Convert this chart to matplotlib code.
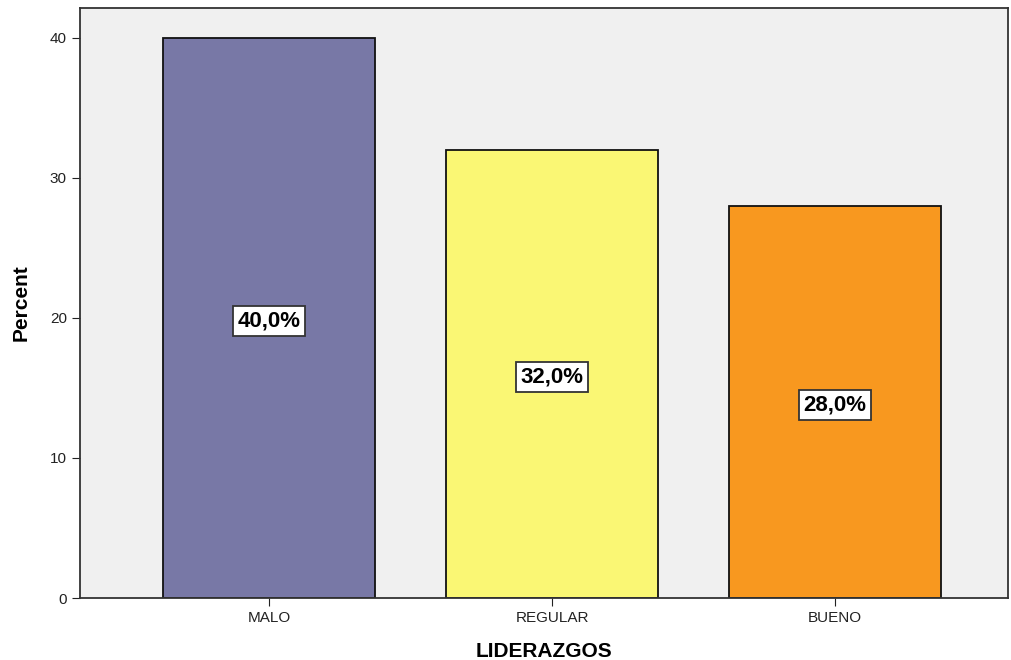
import matplotlib
matplotlib.use("Agg")
import matplotlib.pyplot as plt

categories = ["MALO", "REGULAR", "BUENO"]
values = [40.0, 32.0, 28.0]
labels = ["40,0%", "32,0%", "28,0%"]
colors = ["#7878a6", "#faf774", "#f8981f"]

plt.rcParams['font.family'] = ['Liberation Sans', 'DejaVu Sans']

W, H = 1011, 660
fig = plt.figure(figsize=(W/100, H/100), dpi=100)
ax = fig.add_axes([80/W, (H-598)/H, (1008-80)/W, (598-8)/H])
ax.set_facecolor("#f0f0f0")

x = list(range(len(categories)))
ax.bar(x, values, width=0.75, color=colors, edgecolor="#111111", linewidth=1.3, zorder=2)
for xi, v, lab in zip(x, values, labels):
    ax.text(xi, v/2 - 0.2, lab, ha="center", va="center", fontsize=16, fontweight="bold",
            bbox=dict(boxstyle="square,pad=0.2", facecolor="white", edgecolor="#333333", linewidth=1.3),
            zorder=3)

ax.set_xlim(-0.668, 2.611)
ax.set_ylim(0, 42.14)
ax.set_xticks(x)
ax.set_xticklabels(categories, fontsize=11)
ax.set_yticks([0, 10, 20, 30, 40])
ax.tick_params(axis="both", labelsize=11, length=6, color="#222222", labelcolor="#222222")
ax.set_xlabel("LIDERAZGOS", fontsize=15, fontweight="bold", labelpad=12)
ax.set_ylabel("Percent", fontsize=15, fontweight="bold", labelpad=14)
for s in ax.spines.values():
    s.set_color("#333333")
    s.set_linewidth(1.3)

fig.savefig("out.png", dpi=100)
